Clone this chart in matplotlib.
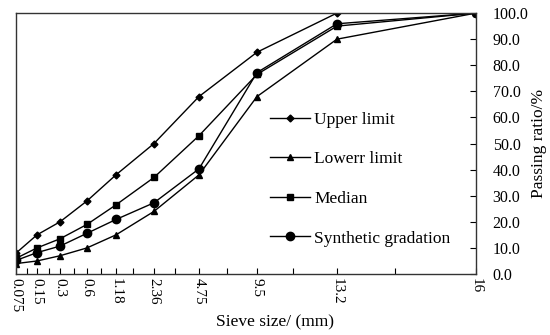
import numpy as np
import matplotlib
matplotlib.use("Agg")
import matplotlib.pyplot as plt
from matplotlib.ticker import FixedLocator, NullFormatter

plt.rcParams['font.family'] = ['Liberation Serif', 'DejaVu Serif']

# sieve sizes (mm) and passing ratios (%)
sieve = [0.075, 0.15, 0.3, 0.6, 1.18, 2.36, 4.75, 9.5, 13.2, 16]
sieve_labels = ["0.075", "0.15", "0.3", "0.6", "1.18", "2.36", "4.75", "9.5", "13.2", "16"]
upper = [8, 15, 20, 28, 38, 50, 68, 85, 100, 100]
lower = [4, 5, 7, 10, 15, 24, 38, 68, 90, 100]
median = [6, 10, 13.5, 19, 26.5, 37, 53, 76.5, 95, 100]
synthetic = [5.2, 8.2, 10.7, 15.6, 20.9, 27.3, 40.3, 77.2, 95.9, 100]

# the horizontal axis is non-linear: where each sieve sits along the axis (0..1)
axis_frac = [0, 0.0457, 0.0957, 0.1543, 0.2174, 0.3, 0.3978, 0.5239, 0.6978, 1.0]
minor_frac = [0.0239, 0.0717, 0.1261, 0.1848, 0.2543, 0.3457, 0.4587, 0.6022, 0.8239]


def fwd(x):
    return np.interp(x, sieve, axis_frac)


def inv(f):
    return np.interp(f, axis_frac, sieve)


fig = plt.figure(figsize=(5.5, 3.35), dpi=100)
ax = fig.add_axes([0.029, 0.182, 0.8365, 0.779])
ax.set_xscale('function', functions=(fwd, inv))

ax.plot(sieve, upper, color='black', lw=1, marker='D', ms=3.5, label='Upper limit')
ax.plot(sieve, lower, color='black', lw=1, marker='^', ms=5, label='Lowerr limit')
ax.plot(sieve, median, color='black', lw=1, marker='s', ms=4, label='Median')
ax.plot(sieve, synthetic, color='black', lw=1, marker='o', ms=6, label='Synthetic gradation')

ax.set_xlim(sieve[0], sieve[-1])
ax.set_ylim(0, 100)

ax.xaxis.set_major_locator(FixedLocator(sieve))
ax.set_xticklabels(sieve_labels, rotation=-90, fontsize=11)
ax.xaxis.set_minor_locator(FixedLocator(inv(np.array(minor_frac))))
ax.xaxis.set_minor_formatter(NullFormatter())
ax.tick_params(axis='x', which='both', direction='in', length=4, width=0.8, pad=3)

ax.yaxis.tick_right()
ax.yaxis.set_label_position('right')
ax.set_yticks(np.arange(0, 101, 10))
ax.set_yticklabels([f"{v:.1f}" for v in np.arange(0, 101, 10)], fontsize=11.5)
ax.tick_params(axis='y', direction='in', length=4, width=0.8, pad=12)

for s in ax.spines.values():
    s.set_linewidth(1)
    s.set_color('#333333')

ax.set_xlabel('Sieve size/ (mm)', fontsize=12.5)
ax.xaxis.set_label_coords(0.563, -0.155)
ax.set_ylabel('Passing ratio/%', fontsize=12.5, labelpad=2)

ax.legend(loc='center left', bbox_to_anchor=(0.552, 0.364), frameon=False,
          fontsize=12.5, handlelength=2.3, handletextpad=0.25, labelspacing=1.35,
          borderaxespad=0, borderpad=0)

fig.savefig('out.png', dpi=100)
